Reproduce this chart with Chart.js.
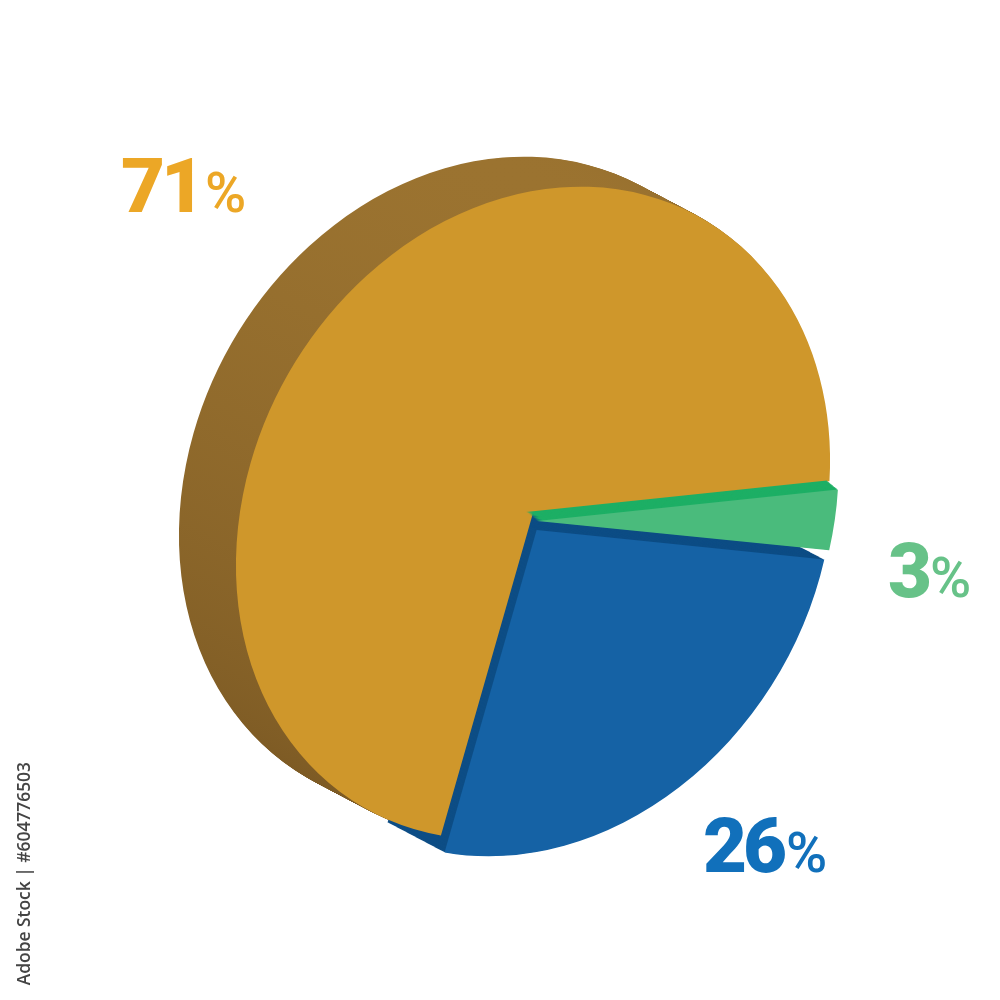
<!DOCTYPE html>
<html>
<head>
<meta charset="utf-8">
<title>71 26 3 pie</title>
<script src="https://cdn.jsdelivr.net/npm/chart.js@4"></script>
<style>
  html, body { margin: 0; padding: 0; background: #fff; }
  canvas { display: block; }
</style>
</head>
<body>
<canvas id="pie" width="1000" height="1000"></canvas>
<script>
const categories = ['Green', 'Blue', 'Orange'];
const values = [3, 26, 71];
const faceColors = ['#4abb7c', '#1562a5', '#cf972b'];
const sideColors = ['#1daf65', '#0d4d85', '#8a6429'];
const labelColors = ['#67c288', '#1170bb', '#eca726'];
const labelSpots = [[888, 597], [703, 872], [121, 212]];
const percentSpots = [[930, 597], [786, 872], [205, 212]];
const sliceOffsets = [26, 68, 0];
const stockLine = 'Adobe Stock | #604776503';

// the flat circle is squeezed and sheared onto this ellipse
const center = [533, 513];
const squeeze = [297, -46, -6, 323];
const depths = [[-11, -9], [-57, -30], [-57, -30]];
const nudges = [[-1, 8], [-3, 5], [0, 0]];

function applyEllipse(ctx, arc, i) {
  const r = arc.outerRadius;
  ctx.translate(center[0] + nudges[i][0], center[1] + nudges[i][1]);
  ctx.transform(squeeze[0] / r, squeeze[1] / r, squeeze[2] / r, squeeze[3] / r, 0, 0);
  ctx.translate(-arc.x, -arc.y);
}

function drawSlab(ctx, arc, i, fill) {
  const [dx, dy] = depths[i];
  const steps = Math.max(Math.abs(dx), Math.abs(dy));
  const opts = arc.options;
  arc.options = Object.create(opts, { backgroundColor: { value: fill }, borderWidth: { value: 0 } });
  for (let s = steps; s >= 1; s--) {
    ctx.save();
    ctx.translate(dx * s / steps, dy * s / steps);
    applyEllipse(ctx, arc, i);
    arc.draw(ctx);
    ctx.restore();
  }
  arc.options = opts;
}

function drawFace(ctx, arc, i) {
  ctx.save();
  applyEllipse(ctx, arc, i);
  arc.draw(ctx);
  ctx.restore();
}

const pie3d = {
  id: 'pie3d',
  beforeDatasetsDraw(chart) {
    const ctx = chart.ctx;
    const [green, blue, orange] = chart.getDatasetMeta(0).data;

    // brown wall gets lighter toward the top
    const wall = ctx.createLinearGradient(0, orange.y - orange.outerRadius, 0, orange.y + orange.outerRadius);
    wall.addColorStop(0, '#9b7330');
    wall.addColorStop(1, '#7a5823');

    drawSlab(ctx, orange, 2, wall);
    drawSlab(ctx, blue, 1, sideColors[1]);
    drawFace(ctx, orange, 2);
    drawSlab(ctx, green, 0, sideColors[0]);
    drawFace(ctx, green, 0);
    drawFace(ctx, blue, 1);
    return false;
  },
  afterDraw(chart) {
    const ctx = chart.ctx;
    ctx.save();
    ctx.textBaseline = 'alphabetic';
    ctx.textAlign = 'left';
    values.forEach((v, i) => {
      ctx.fillStyle = labelColors[i];
      ctx.font = '900 76px Roboto';
      ctx.letterSpacing = '-4px';
      ctx.fillText(String(v), labelSpots[i][0], labelSpots[i][1]);
      ctx.font = '500 56px Roboto';
      ctx.letterSpacing = '0px';
      ctx.fillText('%', percentSpots[i][0], percentSpots[i][1]);
    });
    ctx.translate(30, 762);
    ctx.rotate(-Math.PI / 2);
    ctx.textAlign = 'right';
    ctx.fillStyle = '#444';
    ctx.font = '600 17.4px "Open Sans"';
    ctx.fillText(stockLine, 0, 0);
    ctx.restore();
  }
};

new Chart(document.getElementById('pie'), {
  type: 'pie',
  data: {
    labels: categories,
    datasets: [{
      data: values,
      backgroundColor: faceColors,
      borderWidth: 0,
      offset: sliceOffsets
    }]
  },
  options: {
    responsive: false,
    animation: false,
    rotation: 92.5,
    layout: { padding: 100 },
    plugins: {
      legend: { display: false },
      tooltip: { enabled: false }
    }
  },
  plugins: [pie3d]
});
</script>
</body>
</html>
